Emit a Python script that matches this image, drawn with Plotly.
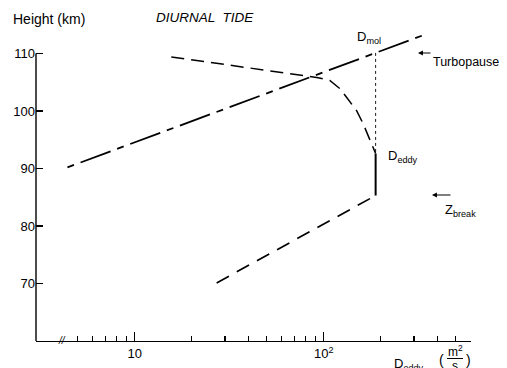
import math
import plotly.graph_objects as go

# ---------------- data ----------------
# molecular diffusion line (turbopause)
mol_D = [4.4, 350]
mol_h = [90.2, 113.4]

# eddy diffusion profile above the break (dashed curve)
eddy_up_D = [15.6, 93.3, 107.6, 121.6, 131.9, 148.9, 161.5, 175, 188]
eddy_up_h = [109.4, 105.8, 105.3, 103.9, 102.4, 100.1, 97.8, 94.9, 92.6]

# constant eddy segment (solid)
eddy_const_D = [188, 188]
eddy_const_h = [92.6, 85.3]

# eddy profile below the break (dashed)
eddy_low_D = [27.1, 188]
eddy_low_h = [70.1, 85.3]

# thin dotted connector from D_mol down to D_eddy
conn_D = [188, 188]
conn_h = [110.1, 92.6]

y_ticks = [70, 80, 90, 100, 110]
x_major = [10, 100]
x_major_text = ["10", "10<sup>2</sup>"]
x_minor = [5, 6, 7, 8, 9, 20, 30, 40, 50, 60, 70, 80, 90, 200, 300, 400, 500, 600]

# ---------------- layout geometry ----------------
W, H = 507, 368
L, R, T, B = 36, 36, 28, 27
plot_w = W - L - R
plot_h = H - T - B
px_per_km = 5.75
y_range = [60, 60 + plot_h / px_per_km]
x_range = [math.log10(3), math.log10(601)]

FONT = "Liberation Sans, Arial, sans-serif"


def px_x(px):
    return (px - L) / plot_w


def px_y(py):
    return (H - B - py) / plot_h


fig = go.Figure()

fig.add_trace(go.Scatter(x=mol_D, y=mol_h, mode="lines",
                         line=dict(color="black", width=1.8, dash="7px,7px,32px,7px"),
                         hoverinfo="skip", showlegend=False))
fig.add_trace(go.Scatter(x=eddy_up_D, y=eddy_up_h, mode="lines",
                         line=dict(color="black", width=1.5, dash="13px,7px"),
                         hoverinfo="skip", showlegend=False))
fig.add_trace(go.Scatter(x=eddy_const_D, y=eddy_const_h, mode="lines",
                         line=dict(color="black", width=2),
                         hoverinfo="skip", showlegend=False))
fig.add_trace(go.Scatter(x=eddy_low_D, y=eddy_low_h, mode="lines",
                         line=dict(color="black", width=1.7, dash="14px,9px"),
                         hoverinfo="skip", showlegend=False))
fig.add_trace(go.Scatter(x=conn_D, y=conn_h, mode="lines",
                         line=dict(color="black", width=0.9, dash="3px,3px"),
                         hoverinfo="skip", showlegend=False))

# y axis line from 60 to 110 only
fig.add_shape(type="line", xref="paper", yref="y", x0=0, x1=0, y0=60, y1=110,
              line=dict(color="black", width=1.4))

# fraction bar in unit label
fig.add_shape(type="line", xref="paper", yref="paper",
              x0=px_x(447), x1=px_x(463), y0=px_y(358.5), y1=px_y(358.5),
              line=dict(color="black", width=1))

ann = []


def text(s, px, py, size=13, xanchor="left", italic=False):
    ann.append(dict(text=s, x=px_x(px), y=px_y(py), xref="paper", yref="paper",
                    xanchor=xanchor, yanchor="middle", showarrow=False,
                    font=dict(family=FONT, size=size, color="black",
                              style="italic" if italic else "normal")))


def arrow(head_px, py, tail_dx):
    ann.append(dict(text="", x=px_x(head_px), y=px_y(py), xref="paper", yref="paper",
                    ax=tail_dx, ay=0, showarrow=True, arrowhead=2, arrowsize=0.9,
                    arrowwidth=1.1, arrowcolor="black"))


text("Height (km)", 11, 19, size=14)
text("DIURNAL  TIDE", 154, 17, size=13.5, italic=True)
text("D<sub>mol</sub>", 355, 38, size=13)
arrow(418, 53, 14)
text("Turbopause", 431, 62, size=12.5)
text("D<sub>eddy</sub>", 386, 156, size=13)
arrow(432, 195, 20)
text("Z<sub>break</sub>", 443, 211, size=13)
text("//", 62, 340, size=10, xanchor="center", italic=True)
text("D<sub>eddy</sub>", 392, 364, size=13)
text("(", 441, 360, size=14, xanchor="center")
text("m<sup>2</sup>", 455, 351, size=12, xanchor="center")
text("s", 455, 366, size=12, xanchor="center")
text(")", 468, 360, size=14, xanchor="center")

fig.update_layout(
    template="none",
    width=W, height=H, autosize=False,
    margin=dict(l=L, r=R, t=T, b=B, pad=0),
    paper_bgcolor="white", plot_bgcolor="white",
    font=dict(family=FONT, size=13, color="black"),
    annotations=ann,
    xaxis=dict(type="log", range=x_range, showgrid=False, zeroline=False,
               automargin=False,
               showline=True, linecolor="black", linewidth=1.4,
               tickmode="array", tickvals=x_major, ticktext=x_major_text,
               ticks="inside", ticklen=9, tickwidth=1.2, tickcolor="black",
               tickfont=dict(family=FONT, size=13, color="black"),
               minor=dict(tickvals=x_minor, ticks="inside", ticklen=5,
                          tickwidth=1.1, tickcolor="black", showgrid=False)),
    yaxis=dict(range=y_range, showgrid=False, zeroline=False, showline=False,
               automargin=False,
               tickmode="array", tickvals=y_ticks,
               ticks="inside", ticklen=7, tickwidth=1.2, tickcolor="black",
               tickfont=dict(family=FONT, size=13, color="black")),
)

fig.write_html(
    "out.html",
    config={"responsive": False, "displayModeBar": False, "staticPlot": True},
    post_script="document.body.style.margin='0';document.body.style.overflow='hidden';",
)
